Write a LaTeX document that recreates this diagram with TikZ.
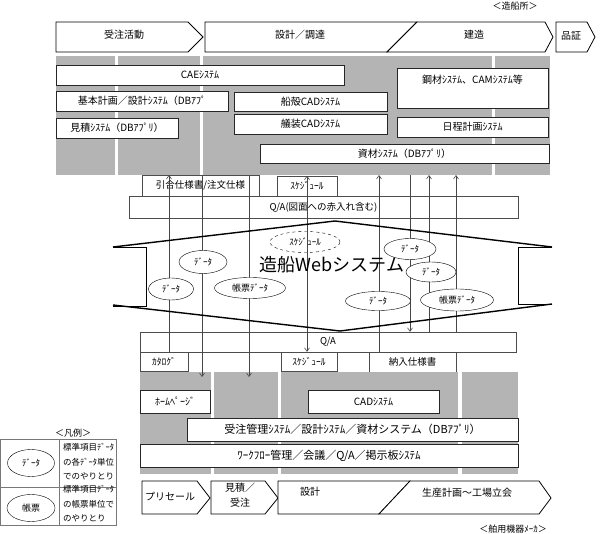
\documentclass[tikz,border=0pt]{standalone}
\usepackage{fontspec}
\setmainfont{Noto Sans CJK JP}
\usetikzlibrary{arrows.meta, shapes.geometric, calc}
\definecolor{bandgray}{RGB}{180, 180, 180}
\definecolor{wiregray}{RGB}{70, 70, 70}
\definecolor{rulegray}{RGB}{120, 120, 120}

\begin{document}
\begin{tikzpicture}[x=1pt, y=-1pt,
    sysbox/.style={draw=black!85, fill=white, inner sep=0pt, font=\fontsize{10}{12}\selectfont},
    tagbox/.style={draw=black!70, fill=white, inner sep=0pt, font=\fontsize{9.5}{11}\selectfont},
    procbox/.style={draw=black, line width=0.8pt, fill=white},
    proclabel/.style={font=\fontsize{10}{15}\selectfont, inner sep=0pt, align=center},
    dataell/.style={ellipse, draw=black, fill=white, inner sep=0pt, font=\fontsize{9}{10}\selectfont},
    wire/.style={wiregray, line width=0.6pt},
    arr/.style={-{Straight Barb[length=3.5pt, width=5pt]}},
    dblarr/.style={{Straight Barb[length=3.5pt, width=5pt]}-{Straight Barb[length=3.5pt, width=5pt]}},
    webline/.style={line width=1.4pt},
    legtext/.style={font=\fontsize{8.5}{14.5}\selectfont, inner sep=0pt, align=left, anchor=west},
  ]
  \useasboundingbox (0,0) rectangle (600,534);

  % --- shipyard process ---
  \node[font=\fontsize{9}{10}\selectfont] (zousen) at (515,6) {＜造船所＞};
  \draw[procbox] (56,22) -- (188,22) -- (203,37) -- (188,52) -- (56,52) -- cycle;
  \draw[procbox] (205,22) -- (417,22) -- (387,52) -- (205,52) -- cycle;
  \draw[procbox] (417,22) -- (545,22) -- (553,37) -- (545,52) -- (387,52) -- cycle;
  \draw[procbox] (556,22) -- (587,22) -- (595,37) -- (587,52) -- (556,52) -- cycle;
  \node[proclabel] (pJuchu) at (124,35) {受注活動};
  \node[proclabel] (pSekkei) at (300,35) {設計／調達};
  \node[proclabel] (pKenzo) at (474,35) {建造};
  \node[proclabel] (pHinsho) at (571,36) {品証};

  % --- shipyard systems ---
  \fill[bandgray] (56,56) rectangle (115,175);
  \fill[bandgray] (118,56) rectangle (200,175);
  \fill[bandgray] (203,56) rectangle (492,175);
  \fill[bandgray] (495,56) rectangle (550,175);
  \node[sysbox, minimum width=288, minimum height=20] (cae) at (200,75) {CAEｼｽﾃﾑ};
  \node[sysbox, minimum width=172, minimum height=20] (kihon) at (142,101) {基本計画／設計ｼｽﾃﾑ（DBｱﾌﾟ};
  \node[sysbox, minimum width=122, minimum height=20] (mitsumori) at (117,128) {見積ｼｽﾃﾑ（DBｱﾌﾟﾘ）};
  \node[sysbox, minimum width=153, minimum height=19] (senkaku) at (310.5,101.5) {船殻CADｼｽﾃﾑ};
  \node[sysbox, minimum width=153, minimum height=20] (giso) at (310.5,124) {艤装CADｼｽﾃﾑ};
  \node[sysbox, minimum width=151, minimum height=40] (kozai) at (472.5,88) {};
  \node[font=\fontsize{10}{12}\selectfont] (kozaiText) at ($(kozai.north)+(0,12)$) {鋼材ｼｽﾃﾑ、CAMｼｽﾃﾑ等};
  \node[sysbox, minimum width=151, minimum height=20] (nittei) at (472.5,127) {日程計画ｼｽﾃﾑ};
  \node[sysbox, minimum width=289, minimum height=19] (shizai) at (404.5,153.5) {資材ｼｽﾃﾑ（DBｱﾌﾟﾘ）};

  % --- exchanged items (upper) ---
  \node[tagbox, minimum width=117, minimum height=21] (hikiai) at (200.5,185.5) {引合仕様書/注文仕様};
  \node[tagbox, minimum width=60, minimum height=20] (schedTop) at (307,186) {ｽｹｼﾞｭｰﾙ};
  \node[tagbox, minimum width=389, minimum height=22] (qaTop) at (323.5,207) {Q/A(図面への赤入れ含む)};

  % --- exchanged items (lower) ---
  \node[tagbox, minimum width=376, minimum height=20] (qaBot) at (328,342) {Q/A};
  \node[tagbox, minimum width=48, minimum height=19] (katalog) at (164,361.5) {ｶﾀﾛｸﾞ};
  \node[tagbox, minimum width=56, minimum height=19] (schedBot) at (309,361.5) {ｽｹｼﾞｭｰﾙ};
  \node[tagbox, minimum width=87, minimum height=20] (nonyu) at (412.5,362) {納入仕様書};

  % --- maker systems ---
  \fill[bandgray] (140,372) rectangle (211,474);
  \fill[bandgray] (214,372) rectangle (278,474);
  \fill[bandgray] (281,372) rectangle (458,474);
  \fill[bandgray] (462,372) rectangle (518,474);
  \node[sysbox, minimum width=70, minimum height=23] (home) at (175,401.5) {ﾎｰﾑﾍﾟｰｼﾞ};
  \node[sysbox, minimum width=131, minimum height=23] (cad) at (373.5,401.5) {CADｼｽﾃﾑ};
  \node[sysbox, minimum width=331, minimum height=23, font=\fontsize{11}{12}\selectfont] (juchuKanri) at (352.5,429.5) {受注管理ｼｽﾃﾑ／設計ｼｽﾃﾑ／資材システム（DBｱﾌﾟﾘ）};
  \node[sysbox, minimum width=378, minimum height=23, font=\fontsize{11}{12}\selectfont] (workflow) at (329,455.5) {ﾜｰｸﾌﾛｰ管理／会議／Q/A／掲示板ｼｽﾃﾑ};

  % --- maker process ---
  \draw[procbox] (142,481) -- (197,481) -- (210,498) -- (197,514) -- (142,514) -- cycle;
  \draw[procbox] (211,481) -- (265,481) -- (278,498) -- (265,514) -- (211,514) -- cycle;
  \draw[procbox] (278,481) -- (410,481) -- (379,514) -- (278,514) -- cycle;
  \draw[procbox] (410,481) -- (539,481) -- (551,498) -- (539,514) -- (379,514) -- cycle;
  \node[proclabel] (qPresale) at (170,497) {プリセール};
  \node[proclabel] (qMitsumori) at (240,495) {見積／\\受注};
  \node[proclabel] (qSekkei) at (310,492) {設計};
  \node[proclabel] (qSeisan) at (467,493) {生産計画〜工場立会};
  \node[font=\fontsize{9}{10}\selectfont] (hakuyo) at (513,529) {＜舶用機器ﾒｰｶ＞};

  % --- data flow lines ---
  \coordinate (t1) at (169,175);
  \coordinate (t2) at (202,175);
  \coordinate (t3) at (249,175);
  \coordinate (t5) at (379,175);
  \coordinate (t6) at (410,175);
  \coordinate (t7) at (429,175);
  \coordinate (t8) at (456,175);
  \coordinate (lowTip) at (0,377);
  \draw[wire, arr] (katalog.north -| t1) -- (t1);
  \draw[wire, arr] (t2) -- (t2 |- lowTip);
  \draw[wire, arr] (t3) -- (t3 |- lowTip);
  \draw[wire, dblarr] (schedTop.north) -- (schedTop.north |- schedBot.north);
  \draw[wire, arr] (nonyu.north -| t5) -- (t5);
  \draw[wire, arr] (t6) -- (t6 |- qaBot.north);
  \draw[wire, arr] (qaBot.north -| t7) -- (t7);
  \draw[wire, arr] (qaBot.north -| t8) -- (t8);

  % --- web system ---
  \draw[webline] (113,247) -- (335,221) -- (552,247);
  \draw[webline] (113,305) -- (340,331) -- (552,304);
  \draw[line width=0.8pt] (113,247) -- (146,247) -- (146,306) -- (113,306);
  \draw[line width=0.8pt] (552,247) -- (518,247) -- (518,304) -- (552,304);
  \node[font=\fontsize{18}{20}\selectfont] (webTitle) at (332,265) {造船Webシステム};

  \node[dataell, dashed, fill=none, minimum width=70, minimum height=21] (eSched) at (305,242) {ｽｹｼﾞｭｰﾙ};
  \node[dataell, minimum width=45, minimum height=22] (eDataA) at (171,289) {ﾃﾞｰﾀ};
  \node[dataell, minimum width=48, minimum height=23] (eDataB) at (203,262) {ﾃﾞｰﾀ};
  \node[dataell, minimum width=71, minimum height=21] (eChohyoA) at (250,288) {帳票ﾃﾞｰﾀ};
  \node[dataell, minimum width=52, minimum height=21] (eDataC) at (410,249) {ﾃﾞｰﾀ};
  \node[dataell, minimum width=50, minimum height=20] (eDataD) at (431,272) {ﾃﾞｰﾀ};
  \node[dataell, minimum width=65, minimum height=19] (eDataE) at (378,301) {ﾃﾞｰﾀ};
  \node[dataell, minimum width=73, minimum height=22] (eChohyoB) at (457,300) {帳票ﾃﾞｰﾀ};

  % --- legend ---
  \node[font=\fontsize{9}{10}\selectfont] (hanrei) at (73,433) {＜凡例＞};
  \draw[rulegray] (0,439) rectangle (116,525);
  \draw[rulegray] (59,439) -- (59,525);
  \draw[rulegray] (0,487) -- (116,487);
  \node[dataell, minimum width=47, minimum height=27] (legData) at (31,463) {ﾃﾞｰﾀ};
  \node[dataell, minimum width=48, minimum height=27] (legChohyo) at (31,508) {帳票};
  \node[legtext] (legDataText) at (63,462) {標準項目ﾃﾞｰﾀ\\の各ﾃﾞｰﾀ単位\\でのやりとり};
  \node[legtext] (legChohyoText) at (63,504) {標準項目ﾃﾞｰﾀ\\の帳票単位で\\のやりとり};
\end{tikzpicture}
\end{document}
